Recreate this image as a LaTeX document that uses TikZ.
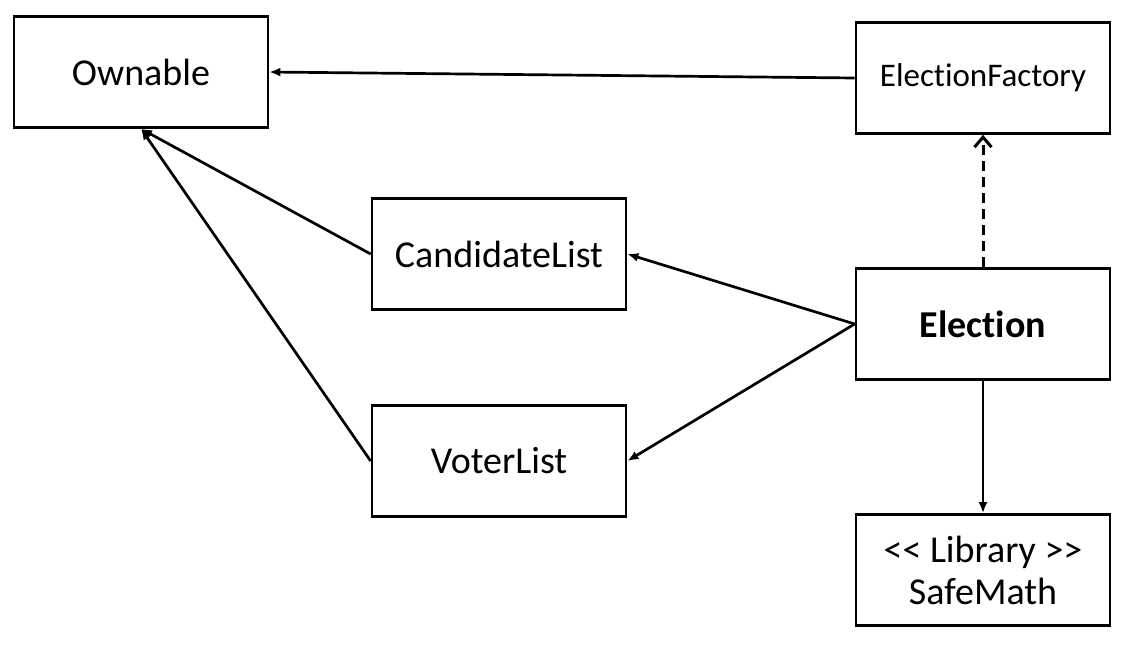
\documentclass[tikz,border=0pt]{standalone}
\usepackage{fontspec}
\setmainfont[RawFeature=-liga]{Carlito}
\usetikzlibrary{arrows.meta}
\begin{document}
\begin{tikzpicture}[x=1pt,y=-1pt,
  cls/.style={draw,line width=2.7pt,minimum width=254pt,minimum height=111pt,inner sep=0pt,align=center,font=\fontsize{38}{42}\selectfont},
  conn/.style={line width=2.7pt,-{Latex[length=11pt,width=9pt]}},
  dep/.style={line width=3pt,dash pattern=on 10pt off 6pt,-{Straight Barb[length=10pt,width=17pt,line width=3pt]}}]
\useasboundingbox (0,0) rectangle (1125,647);
\node[cls] (own) at (141,72) {Ownable};
\node[cls,font=\fontsize{33}{38}\selectfont] (fac) at (983,78) {ElectionFactory};
\node[cls] (cand) at (499,254) {CandidateList};
\node[cls,font=\bfseries\fontsize{38}{42}\selectfont] (elec) at (983,324) {Election};
\node[cls] (voter) at (499,461) {VoterList};
\node[cls] (safe) at (983,570) {<\kern0pt< Library >\kern0pt>\\SafeMath};
\draw[conn] (fac.west) -- (own.east);
\draw[conn] (cand.west) -- (own.south);
\draw[conn] (voter.west) -- (own.south);
\draw[conn] (elec.west) -- (cand.east);
\draw[conn] (elec.west) -- (voter.east);
\draw[conn] (elec.south) -- (safe.north);
\draw[dep] (elec.north) -- (fac.south);
\end{tikzpicture}
\end{document}
